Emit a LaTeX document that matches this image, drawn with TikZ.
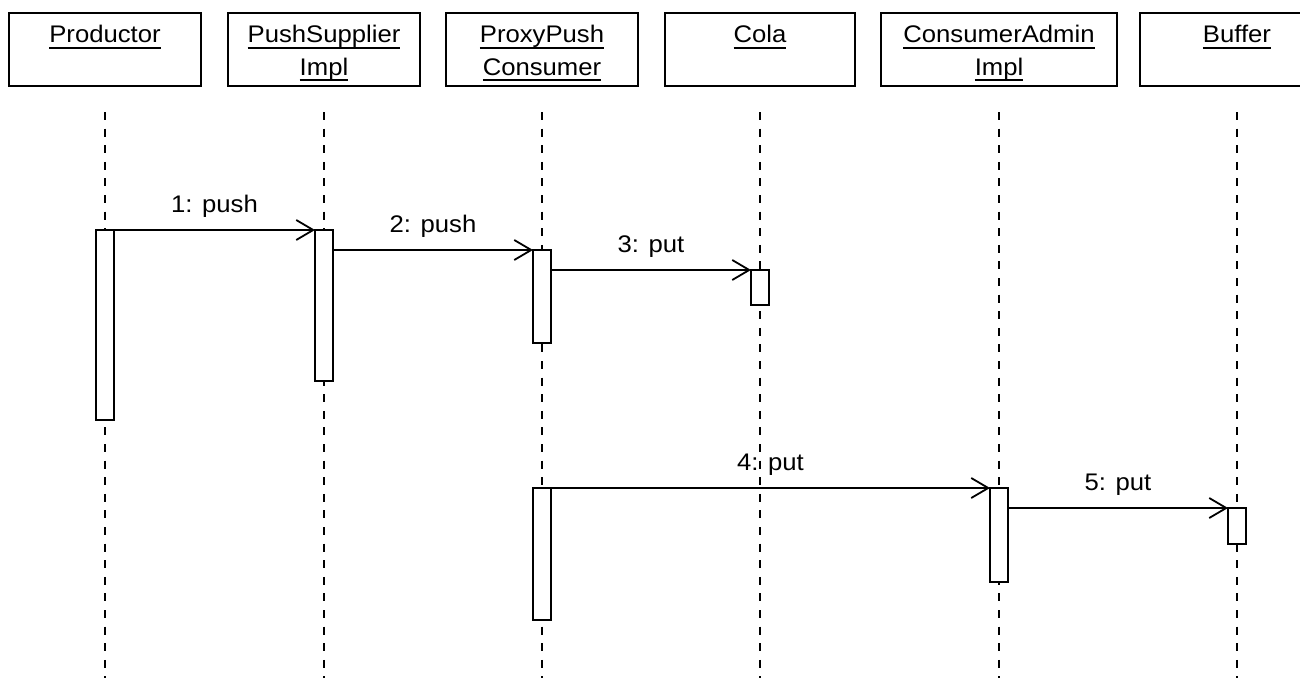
\documentclass[tikz,border=0pt]{standalone}
\usepackage{fontspec}
\setmainfont{Liberation Sans}[FakeStretch=1.07]
\usetikzlibrary{arrows.meta}
% underlined object name with a rule a fixed distance below the baseline
\newcommand\ulbl[1]{\setbox0\hbox{#1}\rlap{\rule[-6pt]{\wd0}{2pt}}\box0}
\begin{document}
\begin{tikzpicture}[x=1pt,y=-1pt,
  font=\fontsize{24}{32}\selectfont,
  objbox/.style={draw, line width=2pt, minimum height=73pt, inner sep=0pt, outer sep=0pt, fill=white},
  objname/.style={anchor=base, inner sep=0pt, outer sep=0pt},
  lifeline/.style={line width=2pt, dash pattern=on 8pt off 8.6pt},
  actbar/.style={draw, fill=white, line width=2pt, minimum width=18pt, inner sep=0pt, outer sep=0pt, anchor=north},
  msg/.style={line width=2pt, -{Straight Barb[length=17pt,width=20pt,line width=1.8pt]}},
  msglabel/.style={anchor=base, inner sep=0pt, yshift=18pt}
]
\useasboundingbox (0,0) rectangle (1300,677);
\clip (0,0) rectangle (1300,677);
\fill[white] (0,0) rectangle (1300,677);

% object headers
\node[objbox, minimum width=192pt] (prod)   at (105,49.5) {};
\node[objbox, minimum width=192pt] (push)   at (324,49.5) {};
\node[objbox, minimum width=192pt] (proxy)  at (542,49.5) {};
\node[objbox, minimum width=190pt] (cola)   at (760,49.5) {};
\node[objbox, minimum width=236pt] (cadmin) at (999,49.5) {};
\node[objbox, minimum width=194pt] (buffer) at (1237,49.5) {};

\node[objname] (prodN)    at (105,43)  {\ulbl{Productor}};
\node[objname] (pushN1)   at (324,43)  {\ulbl{PushSupplier}};
\node[objname] (pushN2)   at (324,75)  {\ulbl{Impl}};
\node[objname] (proxyN1)  at (542,43)  {\ulbl{ProxyPush}};
\node[objname] (proxyN2)  at (542,75)  {\ulbl{Consumer}};
\node[objname] (colaN)    at (760,43)  {\ulbl{Cola}};
\node[objname] (cadminN1) at (999,43)  {\ulbl{ConsumerAdmin}};
\node[objname] (cadminN2) at (999,75)  {\ulbl{Impl}};
\node[objname] (bufferN)  at (1237,43) {\ulbl{Buffer}};

% lifelines
\coordinate (top) at (0,112);
\coordinate (bot) at (0,680);
\foreach \o in {prod,push,proxy,cola,cadmin,buffer}
  \draw[lifeline] (\o |- top) -- (\o |- bot);

% activation bars
\node[actbar, minimum height=190pt] (b1) at (105,230) {};
\node[actbar, minimum height=151pt] (b2) at (324,230) {};
\node[actbar, minimum height=93pt]  (b3) at (542,250) {};
\node[actbar, minimum height=35pt]  (b4) at (760,270) {};
\node[actbar, minimum height=132pt] (b5) at (542,488) {};
\node[actbar, minimum height=94pt]  (b6) at (999,488) {};
\node[actbar, minimum height=36pt]  (b7) at (1237,508) {};

% messages
\draw[msg] (b1.north east) -- node[msglabel] (m1) {1: push} (b2.north west);
\draw[msg] (b2.east |- b3.north) -- node[msglabel] (m2) {2: push} (b3.north west);
\draw[msg] (b3.east |- b4.north) -- node[msglabel] (m3) {3: put} (b4.north west);
\draw[msg] (b5.north east) -- node[msglabel] (m4) {4: put} (b6.north west);
\draw[msg] (b6.east |- b7.north) -- node[msglabel] (m5) {5: put} (b7.north west);
\end{tikzpicture}
\end{document}
